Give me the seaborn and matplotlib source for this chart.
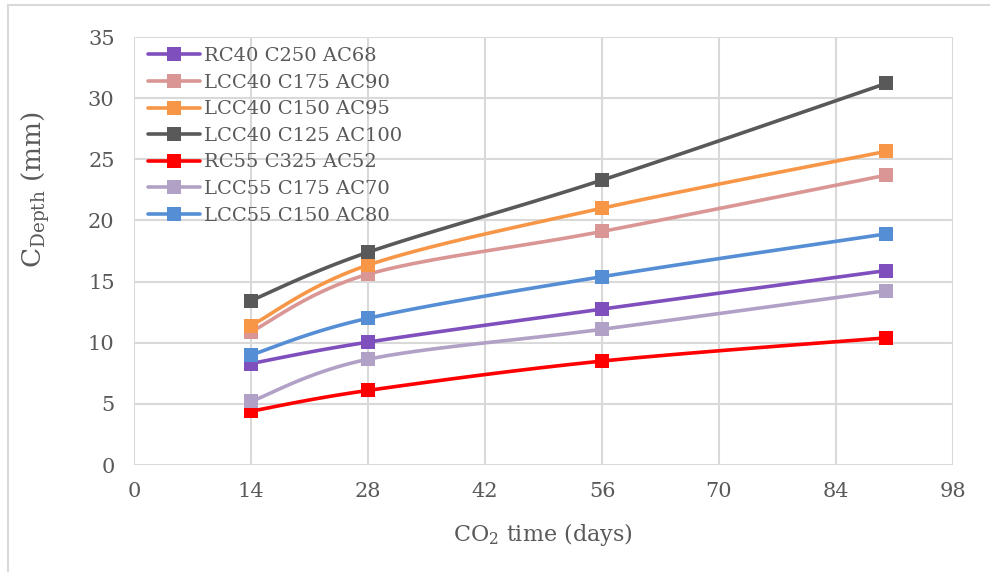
import numpy as np
import pandas as pd
import matplotlib
matplotlib.use("Agg")
import matplotlib.pyplot as plt
from matplotlib.lines import Line2D
from matplotlib.patches import Rectangle
import seaborn as sns

# Carbonation depth readings
days = [14, 28, 56, 90]
series_names = [
    "RC40 C250 AC68",
    "LCC40 C175 AC90",
    "LCC40 C150 AC95",
    "LCC40 C125 AC100",
    "RC55 C325 AC52",
    "LCC55 C175 AC70",
    "LCC55 C150 AC80",
]
rc40_c250 = [8.3, 10.05, 12.75, 15.9]
lcc40_c175 = [10.9, 15.6, 19.1, 23.7]
lcc40_c150 = [11.4, 16.35, 21.0, 25.65]
lcc40_c125 = [13.45, 17.4, 23.3, 31.2]
rc55_c325 = [4.4, 6.1, 8.5, 10.4]
lcc55_c175 = [5.2, 8.65, 11.1, 14.25]
lcc55_c150 = [9.0, 12.0, 15.4, 18.9]
series_values = [rc40_c250, lcc40_c175, lcc40_c150, lcc40_c125,
                 rc55_c325, lcc55_c175, lcc55_c150]
colors = ["#7E4FBD", "#DA9694", "#F79646", "#595959",
          "#FF0000", "#B2A1C7", "#558ED5"]
x_ticks = [0, 14, 28, 42, 56, 70, 84, 98]
y_ticks = [0, 5, 10, 15, 20, 25, 30, 35]

df = pd.DataFrame(
    [(n, d, v) for n, vals in zip(series_names, series_values)
     for d, v in zip(days, vals)],
    columns=["series", "days", "depth"],
)


def smooth_curve(xs, ys, n=40):
    """Catmull-Rom style Bezier smoothing through the given points."""
    xs = np.asarray(xs, float)
    ys = np.asarray(ys, float)
    pts = np.column_stack([xs, ys])
    out = []
    for i in range(len(pts) - 1):
        p0 = pts[i - 1] if i > 0 else pts[i]
        p1 = pts[i]
        p2 = pts[i + 1]
        p3 = pts[i + 2] if i + 2 < len(pts) else pts[i + 1]
        c1 = p1 + (p2 - p0) / 6.0
        c2 = p2 - (p3 - p1) / 6.0
        t = np.linspace(0, 1, n)[:, None]
        seg = ((1 - t) ** 3) * p1 + 3 * ((1 - t) ** 2) * t * c1 \
            + 3 * (1 - t) * t ** 2 * c2 + t ** 3 * p2
        out.append(seg if i == 0 else seg[1:])
    seg = np.vstack(out)
    return seg[:, 0], seg[:, 1]


sns.set_theme(style="white")
plt.rcParams["font.family"] = ["DejaVu Serif"]
plt.rcParams["mathtext.fontset"] = "dejavuserif"

fig = plt.figure(figsize=(9.9, 5.72), dpi=100)
ax = fig.add_axes([0.1354, 0.187, 0.8272, 0.7483])

grid_col = "#D9D9D9"
for xv in x_ticks:
    ax.axvline(xv, color=grid_col, lw=1.5, zorder=0)
for yv in y_ticks:
    ax.axhline(yv, color=grid_col, lw=1.5, zorder=0)

for name, col in zip(series_names, colors):
    sub = df[df["series"] == name]
    sx, sy = smooth_curve(sub["days"], sub["depth"])
    ax.plot(sx, sy, color=col, lw=2.6, solid_capstyle="round", zorder=2)
    sns.scatterplot(data=sub, x="days", y="depth", ax=ax, color=col,
                    marker="s", s=110, linewidth=0, zorder=3, legend=False)

ax.set_xlim(0, 98)
ax.set_ylim(0, 35)
ax.set_xticks(x_ticks)
ax.set_yticks(y_ticks)
ax.tick_params(length=0, labelsize=15, labelcolor="#595959")
ax.tick_params(axis="x", pad=12)
ax.tick_params(axis="y", pad=14)
ax.set_xlabel("")
ax.set_ylabel("")
for s in ax.spines.values():
    s.set_visible(False)

fig.text(543 / 990, 1 - 535 / 572, r"CO$_2$ time (days)", fontsize=16,
         color="#595959", ha="center", va="center")
fig.text(36 / 990, 1 - 190 / 572, r"C$_{\mathrm{Depth}}$ (mm)", fontsize=19,
         color="#595959", ha="center", va="center", rotation=90)

handles = [Line2D([0], [0], color=c, lw=2.6, marker="s", markersize=10,
                  markeredgewidth=0) for c in colors]
ax.legend(handles, series_names, loc="upper left", frameon=False,
          fontsize=14, labelcolor="#595959", handlelength=2.7,
          handletextpad=0.2, labelspacing=0.44,
          bbox_to_anchor=(0.0, 1.008), borderaxespad=0.3)

# outer chart border
fig.add_artist(Rectangle((8 / 990, -0.1), 1.2, 1 - 5 / 572 + 0.1,
                         transform=fig.transFigure, fill=False,
                         edgecolor="#D9D9D9", lw=1.5))

fig.savefig("out.png", dpi=100)
